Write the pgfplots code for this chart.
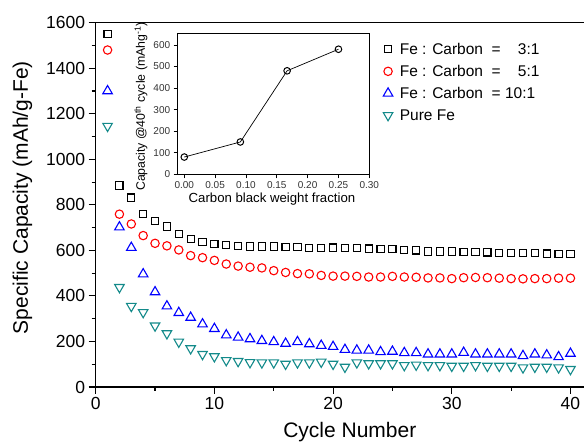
\documentclass[border=0pt]{standalone}
\usepackage{fontspec}
\setmainfont{Liberation Sans}
\usepackage{pgfplots}
\pgfplotsset{compat=1.18}
\definecolor{feteal}{HTML}{138A8A}
\definecolor{tickgray}{HTML}{333333}
\begin{document}
\begin{tikzpicture}
\begin{axis}[
  at={(0,0)}, anchor=south west,
  width=489.6pt, height=364.3pt, scale only axis,
  xmin=0, xmax=41.25, ymin=0, ymax=1600,
  xtick={0,10,20,30,40}, minor xtick={5,15,25,35},
  ytick={0,200,...,1600}, minor ytick={100,300,...,1500},
  tick pos=left, tick align=outside,
  major tick length=7pt, minor tick length=4pt,
  every tick/.style={line width=1.1pt, black},
  axis line style={line width=1.2pt},
  /pgf/number format/assume math mode=true,
  /pgf/number format/1000 sep={},
  tick label style={font=\fontsize{17.5}{20}\selectfont},
  xlabel={Cycle Number}, ylabel={Specific Capacity (mAh/g-Fe)},
  every axis x label/.style={at={(axis description cs:0.519,-0.1385)}, anchor=base, font=\fontsize{21}{24}\selectfont},
  every axis y label/.style={at={(axis description cs:-0.1383,0.52)}, anchor=base, rotate=90, font=\fontsize{21}{24}\selectfont},
  legend style={draw=none, fill=none, inner sep=0pt, at={(axis description cs:0.587,0.948)}, anchor=north west,
    font=\fontsize{15.5}{18}\selectfont, row sep=7pt, column sep=5pt,
    nodes={inner sep=2pt, text height=11pt, text depth=0pt}},
  legend cell align=left,
  legend image code/.code={\draw[#1] plot coordinates {(0pt,0pt)};},
]
\addplot[only marks, mark=square, mark size=3.6pt, draw=black, line width=1.1pt] coordinates {
(1,1550) (2,885) (3,832) (4,760) (5,729) (6,705) (7,672) (8,649) (9,636) (10,628)
(11,624) (12,620) (13,617) (14,617) (15,617) (16,614) (17,614) (18,610) (19,610) (20,612)
(21,611) (22,609) (23,608) (24,605) (25,605) (26,602) (27,600) (28,595) (29,595) (30,595)
(31,594) (32,592) (33,591) (34,590) (35,589) (36,587) (37,587) (38,586) (39,583) (40,583)};
\addlegendentry{Fe : Carbon \ = \phantom{1}\ 3:1}
\addplot[only marks, mark=o, mark size=4.2pt, draw=red, line width=1.1pt] coordinates {
(1,1480) (2,759) (3,716) (4,665) (5,631) (6,620) (7,602) (8,577) (9,568) (10,556)
(11,540) (12,531) (13,526) (14,523) (15,511) (16,503) (17,498) (18,497) (19,490) (20,487)
(21,487) (22,486) (23,483) (24,483) (25,486) (26,483) (27,482) (28,479) (29,479) (30,476)
(31,480) (32,481) (33,480) (34,478) (35,476) (36,475) (37,476) (38,476) (39,478) (40,478)};
\addlegendentry{Fe : Carbon \ = \phantom{1}\ 5:1}
\addplot[only marks, mark=triangle, mark size=5.5pt, draw=blue, line width=1.1pt] coordinates {
(1,1300) (2,702) (3,612) (4,496) (5,417) (6,355) (7,326) (8,305) (9,276) (10,256)
(11,228) (12,218) (13,211) (14,203) (15,198) (16,191) (17,198) (18,189) (19,182) (20,177)
(21,164) (22,161) (23,161) (24,154) (25,156) (26,150) (27,150) (28,144) (29,144) (30,144)
(31,151) (32,144) (33,144) (34,144) (35,144) (36,137) (37,144) (38,140) (39,132) (40,147)};
\addlegendentry{Fe : Carbon \ = 10:1}
\addplot[only marks, mark=triangle, mark size=5.5pt, mark options={rotate=180}, draw=feteal, line width=1.1pt] coordinates {
(1,1146) (2,438) (3,355) (4,328) (5,269) (6,235) (7,198) (8,169) (9,144) (10,134)
(11,117) (12,113) (13,108) (14,107) (15,107) (16,101) (17,107) (18,107) (19,110) (20,101)
(21,88) (22,107) (23,103) (24,103) (25,103) (26,95) (27,97) (28,95) (29,95) (30,92)
(31,92) (32,95) (33,92) (34,92) (35,92) (36,85) (37,88) (38,88) (39,85) (40,78)};
\addlegendentry{Pure Fe}
\end{axis}
\begin{axis}[
  at={(82pt,212.7pt)}, anchor=south west,
  width=191.6pt, height=141pt, scale only axis,
  axis background/.style={fill=white},
  xmin=-0.0107, xmax=0.30, ymin=0, ymax=654,
  xtick={0,0.05,0.10,0.15,0.20,0.25,0.30},
  ytick={0,100,...,600},
  tick align=outside, tick pos=left,
  major tick length=4pt,
  every tick/.style={line width=0.7pt, black},
  axis line style={line width=0.8pt},
  /pgf/number format/assume math mode=true,
  xticklabel style={/pgf/number format/fixed, /pgf/number format/fixed zerofill, /pgf/number format/precision=2},
  tick label style={font=\fontsize{10}{12}\selectfont, text=tickgray},
  xlabel={Carbon black weight fraction},
  ylabel={Capacity @40\textsuperscript{th} cycle (mAhg\textsuperscript{-1})},
  every axis x label/.style={at={(axis description cs:0.492,-0.2035)}, anchor=base, font=\fontsize{13.2}{15}\selectfont},
  every axis y label/.style={at={(axis description cs:-0.1707,0.48)}, anchor=base, rotate=90, font=\fontsize{12.3}{14}\selectfont},
]
\addplot[black, line width=0.7pt, mark=o, mark size=3.3pt, mark options={line width=1pt}] coordinates {
(0,80) (0.0909,150) (0.1667,480) (0.25,580)};
\end{axis}
\pgfresetboundingbox
\useasboundingbox (-95.7pt,-56pt) rectangle (488.3pt,387pt);
\end{tikzpicture}
\end{document}
